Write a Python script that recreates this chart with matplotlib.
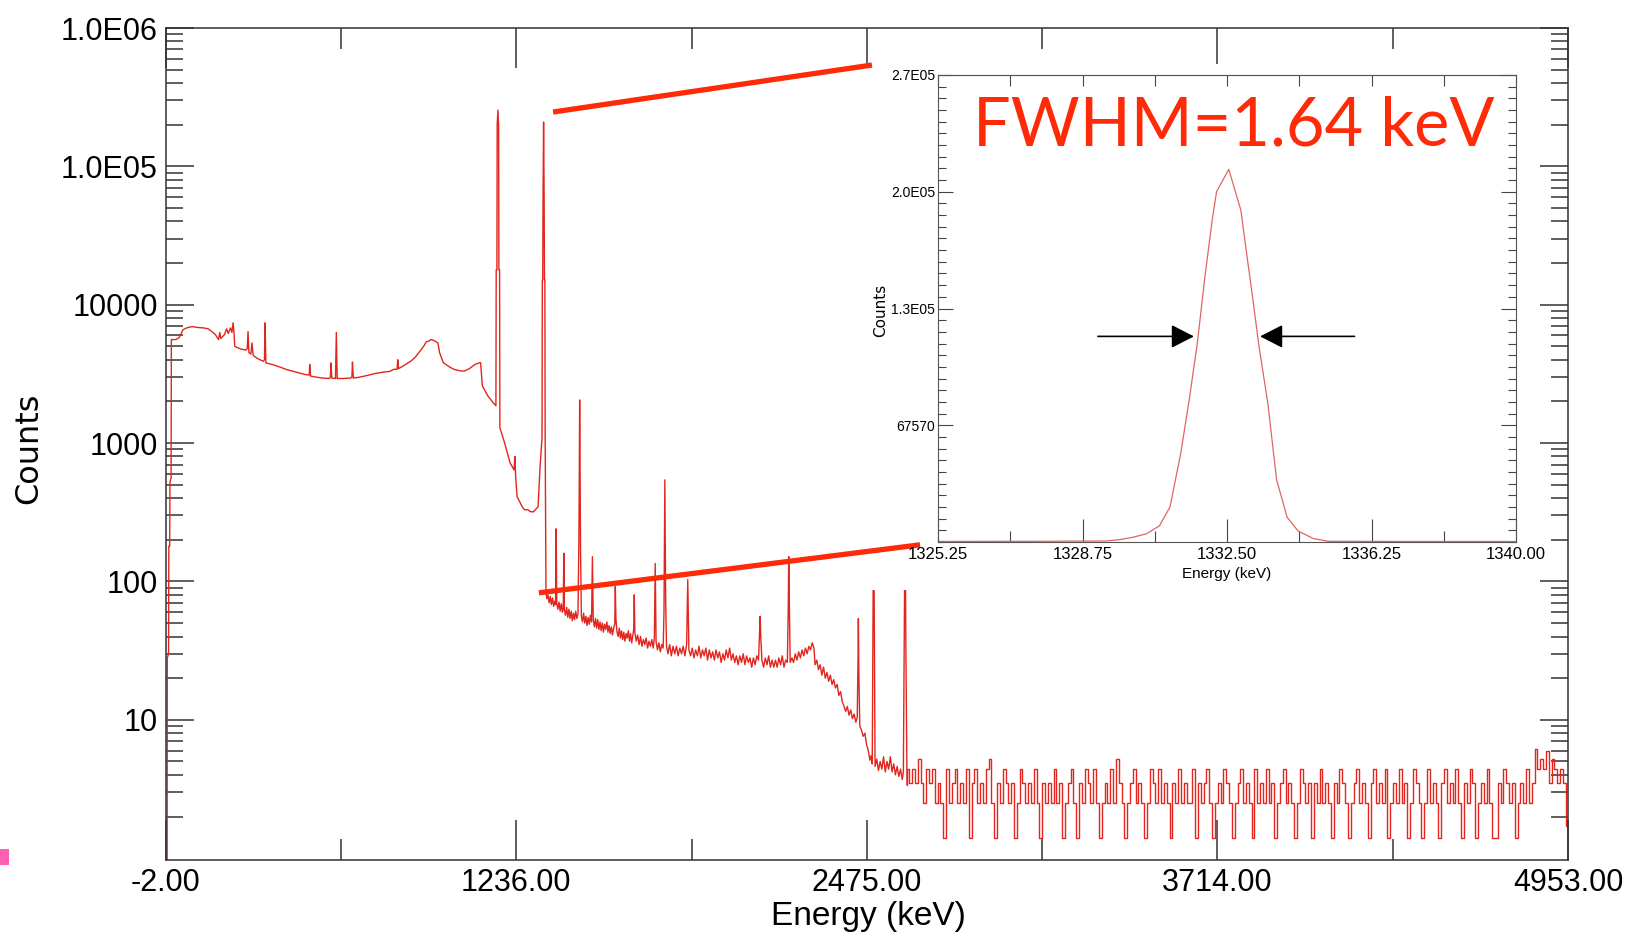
import matplotlib
matplotlib.use("Agg")
import matplotlib.pyplot as plt
import numpy as np
from matplotlib.patches import Rectangle
from matplotlib.ticker import LogLocator, MultipleLocator, NullFormatter

W, H = 1628, 932

# ---- main spectrum as (keV, counts) vertices ----
low_region = [
    (0, 0.9), (2, 0.9), (2.5, 28), (7, 30), (8, 180), (11, 180), (12, 520), (16, 560),
    (17, 5600), (33, 5600), (45, 5800), (58, 6600), (71, 6800), (90, 6950), (109, 6850),
    (130, 6800), (147, 6700), (160, 6400), (172, 6100), (184, 5600), (188, 6300),
    (192, 5700), (205, 6100), (212, 6700), (218, 6200), (226, 6800), (231, 6300),
    (235, 7400), (238, 6400), (241, 5000), (260, 4800), (280, 4700), (285, 4800),
    (288, 6400), (291, 4500), (298, 4400), (302, 5300), (306, 4300), (320, 4100),
    (342, 3900), (346, 4000), (348, 7400), (351, 3800), (373, 3700), (400, 3550),
    (424, 3400), (460, 3250), (487, 3140), (504, 3100), (506, 3700), (509, 3050),
    (524, 3010), (550, 2950), (575, 2930), (579, 3000), (581, 3800), (584, 2950),
    (597, 2930), (600, 6300), (603, 2930), (625, 2930), (650, 2950), (655, 3000),
    (657, 3850), (660, 2950), (676, 2980), (700, 3050), (739, 3190), (764, 3250),
    (790, 3300), (802, 3410), (815, 3420), (817, 4000), (820, 3450), (840, 3650),
    (864, 3920), (880, 4200), (895, 4600), (909, 5020), (918, 5400), (927, 5460),
    (935, 5600), (946, 5500), (959, 5300), (965, 4500), (978, 3810), (1000, 3550),
    (1016, 3410), (1040, 3320), (1053, 3320), (1070, 3450), (1091, 3710), (1105, 3800),
    (1110, 3810), (1116, 2590), (1135, 2200), (1154, 1960), (1164, 1860),
    (1165, 17900), (1167.5, 17900), (1168.5, 2.0e5), (1171, 2.55e5), (1173.5, 2.0e5),
    (1174.5, 17900), (1177, 17900), (1178, 1290), (1195, 1000), (1214, 720), (1228, 640),
    (1231, 800), (1234, 560), (1239, 410), (1257, 346), (1265, 330), (1277, 330),
    (1285, 320), (1296, 318), (1313, 346), (1320, 673), (1327, 1100), (1328, 15100),
    (1329.5, 15100), (1330.5, 57000), (1332.5, 2.09e5), (1334.5, 57000),
    (1335.5, 15100), (1337, 15100), (1338, 1180), (1341, 82),
]

mid_region = [
    (1341, 82), (1344, 75), (1348, 80), (1352, 70), (1356, 78), (1360, 68), (1364, 76),
    (1368, 66), (1372, 72), (1375, 68), (1377, 240), (1379, 70), (1383, 63), (1387, 71),
    (1391, 61), (1395, 69), (1399, 60), (1402, 64), (1404, 160), (1406, 62), (1410, 57),
    (1414, 65), (1418, 55), (1422, 63), (1426, 54), (1430, 61), (1434, 52), (1438, 59),
    (1442, 53), (1446, 61), (1450, 54), (1454, 58), (1457, 178), (1458, 330),
    (1460, 2050), (1462, 330), (1463, 178), (1466, 56), (1470, 51), (1474, 59),
    (1478, 50), (1482, 56), (1486, 48), (1490, 55), (1494, 49), (1498, 57), (1502, 51),
    (1505, 151), (1508, 53), (1512, 47), (1516, 54), (1520, 46), (1524, 53), (1528, 45),
    (1532, 51), (1536, 44), (1540, 50), (1544, 43), (1548, 49), (1552, 45), (1556, 51),
    (1560, 43), (1564, 48), (1568, 42), (1572, 47), (1576, 41), (1580, 46), (1584, 49),
    (1586, 92), (1588, 54), (1592, 43), (1596, 40), (1600, 46), (1604, 39), (1608, 44),
    (1612, 38), (1616, 43), (1620, 37), (1624, 42), (1628, 39), (1632, 44), (1636, 37),
    (1640, 42), (1644, 36), (1648, 41), (1651, 45), (1653, 80), (1655, 43), (1660, 37),
    (1665, 41), (1670, 35), (1675, 40), (1680, 34), (1685, 38), (1690, 35), (1695, 39),
    (1700, 33), (1705, 37), (1710, 34), (1715, 38), (1720, 33), (1724, 39), (1727, 135),
    (1730, 37), (1735, 32), (1740, 36), (1745, 31), (1750, 35), (1755, 33), (1758, 60),
    (1761, 542), (1764, 70), (1767, 34), (1772, 30), (1778, 35), (1784, 29), (1790, 34),
    (1796, 30), (1802, 34), (1808, 29), (1814, 33), (1820, 30), (1826, 34), (1832, 29),
    (1838, 35), (1842, 103), (1846, 32), (1852, 29), (1858, 33), (1864, 28), (1870, 32),
    (1876, 29), (1882, 34), (1888, 28), (1894, 32), (1900, 29), (1906, 33), (1912, 27),
    (1918, 32), (1924, 28), (1930, 31), (1936, 27), (1942, 32), (1948, 28), (1954, 31),
    (1960, 26), (1966, 30), (1972, 27), (1978, 32), (1984, 28), (1990, 33), (1996, 27),
    (2002, 30), (2008, 26), (2014, 29), (2020, 25), (2026, 29), (2032, 26), (2038, 30),
    (2044, 25), (2050, 29), (2056, 26), (2062, 28), (2068, 24), (2074, 28), (2080, 25),
    (2086, 29), (2092, 27), (2096, 45), (2098, 56), (2100, 40), (2104, 27), (2110, 24),
    (2116, 28), (2122, 25), (2128, 29), (2134, 24), (2140, 27), (2146, 24), (2152, 27),
    (2158, 24), (2164, 28), (2170, 25), (2176, 29), (2182, 24), (2188, 27), (2194, 26),
    (2197, 60), (2199, 151), (2201, 70), (2204, 26), (2210, 28), (2216, 26), (2222, 30),
    (2228, 27), (2234, 31), (2240, 28), (2246, 32), (2252, 29), (2258, 33), (2264, 30),
    (2270, 34), (2276, 32), (2282, 36), (2288, 33), (2292, 25), (2298, 27), (2304, 23),
    (2310, 25), (2316, 21), (2322, 24), (2328, 20), (2334, 22), (2340, 19), (2346, 21),
    (2352, 18), (2358, 19.5), (2364, 17), (2370, 18), (2376, 15), (2382, 16),
    (2388, 13.5), (2394, 12.6), (2400, 11.5), (2406, 12.5), (2412, 10.8), (2418, 11.8),
    (2424, 10.2), (2430, 11), (2436, 9.6), (2441, 10.4), (2444, 30), (2445, 54),
    (2447, 20), (2450, 9), (2456, 8.4), (2462, 7.6), (2468, 8), (2474, 6.6), (2480, 6.0),
    (2486, 5.1), (2490, 5.5), (2494, 4.8), (2497, 60), (2499, 400), (2501, 60),
    (2504, 4.6), (2510, 5.2), (2516, 4.3), (2522, 5.0), (2528, 4.4), (2534, 5.4),
    (2540, 4.2), (2546, 5.0), (2552, 4.4), (2558, 5.4), (2564, 4.2), (2570, 4.8),
    (2576, 4.0), (2582, 4.6), (2588, 3.9), (2594, 4.4), (2600, 3.7), (2604, 4.2),
    (2607, 32), (2610, 300), (2613, 32), (2617, 3.4),
]

# high-energy tail: one value per 10 keV channel group starting at 2620 keV
noise_start = 2620.0
noise_bin = 10.0
noise_counts = [
    4.4, 3.5, 4.4, 3.5, 5.2, 3.5, 2.5, 4.4, 3.5, 4.4, 2.5, 3.5, 2.5, 1.4, 4.4, 2.5, 3.5, 4.4,
    2.5, 3.5, 2.5, 4.4, 1.4, 3.5, 4.4, 2.5, 3.5, 2.5, 4.4, 5.2, 2.5, 1.4, 3.5, 2.5, 4.4, 3.5,
    2.5, 3.5, 1.4, 2.5, 4.4, 3.5, 2.5, 3.5, 2.5, 4.4, 2.5, 1.4, 3.5, 2.5, 3.5, 2.5, 4.4, 2.5,
    3.5, 1.4, 2.5, 3.5, 4.4, 2.5, 1.4, 3.5, 2.5, 4.4, 3.5, 2.5, 4.4, 2.5, 1.4, 2.5, 3.5, 2.5,
    4.4, 2.5, 5.2, 3.5, 2.5, 1.4, 2.5, 3.5, 4.4, 2.5, 3.5, 2.5, 1.4, 2.5, 4.4, 3.5, 2.5, 4.4,
    2.5, 3.5, 2.5, 1.4, 3.5, 2.5, 4.4, 2.5, 3.5, 2.5, 2.5, 4.4, 1.4, 3.5, 2.5, 3.5, 4.4, 2.5,
    1.4, 2.5, 3.5, 2.5, 4.4, 3.5, 2.5, 1.4, 2.5, 3.5, 4.4, 2.5, 3.5, 2.5, 1.4, 4.4, 2.5, 3.5,
    2.5, 4.4, 2.5, 3.5, 1.4, 2.5, 3.5, 4.4, 2.5, 3.5, 2.5, 1.4, 2.5, 4.4, 3.5, 2.5, 3.5, 1.4,
    3.5, 2.5, 4.4, 2.5, 3.5, 2.5, 1.4, 3.5, 2.5, 4.4, 3.5, 2.5, 1.4, 2.5, 3.5, 4.4, 2.5, 3.5,
    2.5, 1.4, 3.5, 4.4, 2.5, 3.5, 2.5, 4.4, 1.4, 2.5, 3.5, 2.5, 4.4, 2.5, 3.5, 1.4, 2.5, 4.4,
    3.5, 2.5, 1.4, 2.5, 4.4, 2.5, 3.5, 2.5, 1.4, 3.5, 4.4, 2.5, 3.5, 2.5, 4.4, 2.5, 1.4, 3.5,
    2.5, 4.4, 3.5, 1.4, 2.5, 3.5, 2.5, 4.4, 2.5, 1.4, 1.4, 3.5, 2.5, 4.4, 3.5, 2.5, 3.5, 1.4,
    2.5, 3.5, 2.5, 4.4, 2.5, 3.5, 6.2, 4.4, 5.2, 4.4, 6.0, 3.5, 5.2, 4.4, 3.5, 4.4, 3.5, 1.7,
]

x_ticks = [-2.0, 1236.0, 2475.0, 3714.0, 4953.0]
x_tick_labels = ["-2.00", "1236.00", "2475.00", "3714.00", "4953.00"]
y_ticks = [10, 100, 1000, 1e4, 1e5, 1e6]
y_tick_labels = ["10", "100", "1000", "10000", "1.0E05", "1.0E06"]

# ---- inset: the 1332 keV line ----
inset_peak = [
    (1325.25, 350), (1327.5, 380), (1329.55, 600), (1329.90, 1390), (1330.23, 2780),
    (1330.57, 4760), (1330.90, 9330), (1331.17, 20240), (1331.45, 51990),
    (1331.67, 83740), (1331.87, 115500), (1332.06, 153200), (1332.25, 186900),
    (1332.36, 202800), (1332.67, 215700), (1332.98, 191900), (1333.09, 173000),
    (1333.28, 141300), (1333.44, 113500), (1333.67, 79770), (1333.89, 36120),
    (1334.16, 14290), (1334.44, 6350), (1334.83, 1980), (1335.22, 400),
    (1337.5, 300), (1340.0, 300),
]
inset_x_tick_labels = ["1325.25", "1328.75", "1332.50", "1336.25", "1340.00"]
inset_y_ticks = [67570, 135140, 202710, 270280]
inset_y_tick_labels = ["67570", "1.3E05", "2.0E05", "2.7E05"]
fwhm_edges = (1331.78, 1333.47)
fwhm_tails = (1329.33, 1335.88)
fwhm_level = 1.19e5

# zoom connector lines, main-axes data coordinates
zoom_upper = [(1366, 2.47e5), (2493, 5.4e5)]
zoom_lower = [(1316, 82.7), (2663, 184)]

SPEC_RED = "#e2261e"
ZOOM_RED = "#ff2a08"
AXIS = "#333333"
NARROW = ["Liberation Sans Narrow", "Liberation Sans", "DejaVu Sans"]


def px_box(left, top, right, bottom):
    return [left / W, 1 - bottom / H, (right - left) / W, (bottom - top) / H]


def draw_main(fig):
    ax = fig.add_axes(px_box(166, 28, 1568, 860))

    e, c = zip(*low_region)
    ax.plot(e, c, color=SPEC_RED, lw=1.0, zorder=2)
    e, c = zip(*mid_region)
    ax.plot(e, c, color=SPEC_RED, lw=1.0, zorder=2)
    noise_e = noise_start + noise_bin * np.arange(len(noise_counts))
    ax.plot(np.r_[mid_region[-1][0], noise_e], np.r_[mid_region[-1][1], noise_counts],
            color=SPEC_RED, lw=1.0, drawstyle="steps-mid", zorder=2)

    ax.set_xlim(-2, 4953)
    ax.set_yscale("log")
    ax.set_ylim(0.97, 1e6)
    ax.set_xticks(x_ticks, x_tick_labels)
    ax.set_xticks([(a + b) / 2 for a, b in zip(x_ticks[:-1], x_ticks[1:])], minor=True)
    ax.set_yticks(y_ticks, y_tick_labels)
    ax.yaxis.set_minor_locator(LogLocator(base=10, subs=np.arange(2, 10) * 1.0, numticks=20))
    ax.yaxis.set_minor_formatter(NullFormatter())

    ax.tick_params(axis="x", which="major", direction="in", length=29, width=1.1,
                   top=True, pad=6, labelsize=22, colors=AXIS, labelcolor="black")
    ax.tick_params(axis="x", which="minor", direction="in", length=15, width=1.1,
                   top=True, colors=AXIS)
    ax.tick_params(axis="y", which="major", direction="in", length=20, width=1.1,
                   right=True, pad=6, labelsize=22, colors=AXIS, labelcolor="black")
    ax.tick_params(axis="y", which="minor", direction="in", length=12, width=1.1,
                   right=True, colors=AXIS)
    for lbl in ax.get_xticklabels() + ax.get_yticklabels():
        lbl.set_family(NARROW)
    for sp in ax.spines.values():
        sp.set_color(AXIS)
        sp.set_linewidth(1.1)

    ax.set_xlabel("Energy (keV)", fontsize=24, family=NARROW)
    ax.xaxis.set_label_coords(0.5007, -0.0685)
    ax.xaxis.label.set_va("center")
    ax.set_ylabel("Counts", fontsize=23, family="DejaVu Sans")
    ax.yaxis.set_label_coords(-0.0977, 0.495)
    ax.yaxis.label.set_va("center")

    # white backing of the pasted zoom panel, hides the spectrum but not the ticks
    ax.add_patch(Rectangle((871 / W, 1 - 590 / H), (1530 - 871) / W, (590 - 64) / H,
                           transform=fig.transFigure, facecolor="white",
                           edgecolor="none", zorder=2.2, clip_on=False))
    for seg in (zoom_upper, zoom_lower):
        xs, ys = zip(*seg)
        ax.plot(xs, ys, color=ZOOM_RED, lw=3.8, solid_capstyle="butt",
                clip_on=False, zorder=4)
    return ax


def draw_inset(fig):
    ax = fig.add_axes(px_box(938, 75, 1516, 542))
    ax.set_facecolor("white")
    e, c = zip(*inset_peak)
    ax.plot(e, c, color="#e06464", lw=0.9)

    ax.set_xlim(1325.25, 1340.0)
    ax.set_ylim(0, 270280)
    xt = np.linspace(1325.25, 1340.0, len(inset_x_tick_labels))
    ax.set_xticks(xt, inset_x_tick_labels)
    ax.set_xticks((xt[:-1] + xt[1:]) / 2, minor=True)
    ax.set_yticks(inset_y_ticks, inset_y_tick_labels)
    ax.yaxis.set_minor_locator(MultipleLocator(6757))

    ax.tick_params(axis="x", which="major", direction="in", length=16.5, width=0.8,
                   pad=3.5, labelsize=12, colors="#444444", labelcolor="black")
    ax.tick_params(axis="x", which="minor", direction="in", length=8, width=0.8,
                   colors="#444444")
    ax.tick_params(axis="y", which="major", direction="in", length=10.5, width=0.8,
                   right=True, pad=2, labelsize=10, colors="#444444", labelcolor="black")
    ax.tick_params(axis="y", which="minor", direction="in", length=5.5, width=0.8,
                   right=True, colors="#444444")
    for lbl in ax.get_xticklabels() + ax.get_yticklabels():
        lbl.set_family(NARROW)
    top = ax.secondary_xaxis("top")
    top.set_xticks(xt)
    top.set_xticks((xt[:-1] + xt[1:]) / 2, minor=True)
    top.tick_params(axis="x", which="both", direction="in", length=8, width=0.8,
                    labeltop=False, colors="#444444")
    top.spines["top"].set_color("#555555")
    for sp in ax.spines.values():
        sp.set_color("#555555")
        sp.set_linewidth(0.8)

    ax.set_xlabel("Energy (keV)", fontsize=11, family=NARROW)
    ax.xaxis.set_label_coords(0.5, -0.0685)
    ax.xaxis.label.set_va("center")
    ax.set_ylabel("Counts", fontsize=11, family="DejaVu Sans")
    ax.yaxis.set_label_coords(-0.0986, 0.495)
    ax.yaxis.label.set_va("center")

    style = "-|>,head_length=0.7,head_width=0.36"
    for tail, tip in zip(fwhm_tails, fwhm_edges):
        ax.annotate("", xy=(tip, fwhm_level), xytext=(tail, fwhm_level),
                    arrowprops=dict(arrowstyle=style, mutation_scale=20, lw=1.2,
                                    color="black", shrinkA=0, shrinkB=0))
    return ax


fig = plt.figure(figsize=(W / 100, H / 100), dpi=100)
fig.patch.set_facecolor("white")
draw_main(fig)
draw_inset(fig)
fig.text(1234 / W, 1 - 145 / H, "FWHM=1.64 keV", ha="center", va="baseline",
         fontsize=48, color=ZOOM_RED, family=["Lato", "DejaVu Sans"])
fig.add_artist(Rectangle((0, 1 - 865 / H), 9 / W, 16 / H, transform=fig.transFigure,
                         facecolor="#ff5fb0", edgecolor="none"))
fig.savefig("out.png", dpi=100)
